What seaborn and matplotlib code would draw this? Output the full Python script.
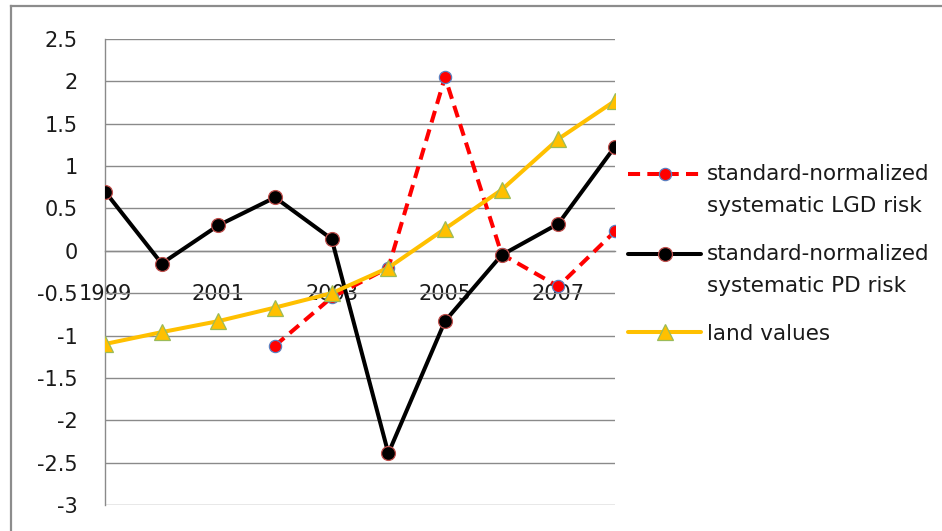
import numpy as np
import pandas as pd
import matplotlib
matplotlib.use("Agg")
import matplotlib.pyplot as plt
import matplotlib.transforms as mtransforms
from matplotlib.lines import Line2D
from matplotlib.legend_handler import HandlerLine2D
import seaborn as sns

# ---- data ----
years = [1999, 2000, 2001, 2002, 2003, 2004, 2005, 2006, 2007, 2008]
lgd_risk = [np.nan, np.nan, np.nan, -1.12, -0.55, -0.2, 2.05, -0.04, -0.42, 0.23]
pd_risk = [0.70, -0.15, 0.30, 0.63, 0.14, -2.39, -0.83, -0.05, 0.32, 1.23]
land_values = [-1.10, -0.96, -0.83, -0.67, -0.50, -0.20, 0.26, 0.72, 1.32, 1.77]

series_labels = [
    "standard-normalized\nsystematic LGD risk",
    "standard-normalized\nsystematic PD risk",
    "land values",
]
xtick_years = [1999, 2001, 2003, 2005, 2007]
xtick_labels = ["1999", "2001", "2003", "2005", "2007"]
ytick_values = [2.5, 2, 1.5, 1, 0.5, 0, -0.5, -1, -1.5, -2, -2.5, -3]
ytick_labels = ["2.5", "2", "1.5", "1", "0.5", "0", "-0.5", "-1", "-1.5", "-2", "-2.5", "-3"]

df = pd.DataFrame({"year": years, "lgd": lgd_risk, "pd": pd_risk, "land": land_values})

# ---- style ----
sns.set_style("white")
plt.rcParams["font.family"] = ["DejaVu Sans"]
plt.rcParams["font.size"] = 15
text_color = "#1a1a1a"
grid_color = "#8a8a8a"

fig = plt.figure(figsize=(9.42, 5.31), dpi=100)
W, H = 942, 531
ax = fig.add_axes([105 / W, 1 - 505 / H, 510 / W, 466 / H])

# outer chart border: left and top edges
border_x = 11 / W
border_y = 1 - 6 / H
fig.add_artist(Line2D([border_x, border_x], [0, border_y], transform=fig.transFigure,
                      color="#8c8c8c", lw=1.6, solid_capstyle="projecting"))
fig.add_artist(Line2D([border_x, 1], [border_y, border_y], transform=fig.transFigure,
                      color="#8c8c8c", lw=1.6, solid_capstyle="projecting"))

# ---- series ----
sns.lineplot(data=df, x="year", y="lgd", ax=ax, color="#ff0000", lw=2.9,
             linestyle=(0, (3.0, 1.8)), dash_capstyle="butt",
             marker="o", markersize=8.8, markerfacecolor="#ff0000",
             markeredgecolor="#5b7fc0", markeredgewidth=0.9, zorder=3)
sns.lineplot(data=df, x="year", y="pd", ax=ax, color="#000000", lw=2.9,
             marker="o", markersize=10, markerfacecolor="#000000",
             markeredgecolor="#c0504d", markeredgewidth=0.9, zorder=4)
sns.lineplot(data=df, x="year", y="land", ax=ax, color="#ffc000", lw=2.9,
             marker="^", markersize=11, markerfacecolor="#ffc000",
             markeredgecolor="#9bbb59", markeredgewidth=0.9, zorder=5)

# ---- axes ----
ax.set_xlim(1999, 2008)
ax.set_ylim(-3, 2.5)
ax.set_xlabel("")
ax.set_ylabel("")
ax.set_yticks(ytick_values)
ax.set_yticklabels(ytick_labels)
ax.set_xticks(xtick_years)
ax.set_xticklabels(xtick_labels)

ax.yaxis.grid(True, color=grid_color, lw=1.0)
ax.xaxis.grid(False)
ax.set_axisbelow(True)
for side in ("top", "right"):
    ax.spines[side].set_visible(False)
ax.spines["left"].set_color(grid_color)
ax.spines["left"].set_linewidth(1.0)
ax.spines["bottom"].set_position(("data", 0))
ax.spines["bottom"].set_color(grid_color)
ax.spines["bottom"].set_linewidth(1.0)

ax.tick_params(axis="y", direction="out", length=6.5, width=1.0,
               color=grid_color, pad=13, labelsize=15, labelcolor=text_color)
ax.tick_params(axis="x", direction="out", length=6, width=1.0,
               color=grid_color, pad=18, labelsize=15, labelcolor=text_color)
ax.patch.set_alpha(0)


# ---- legend ----
class RaisedLineHandler(HandlerLine2D):
    """Line handle lifted so it sits level with the first line of a two-line label."""

    def __init__(self, raise_pts=0.0, **kw):
        super().__init__(**kw)
        self.raise_pts = raise_pts

    def create_artists(self, legend, orig_handle, xdescent, ydescent,
                       width, height, fontsize, trans):
        artists = super().create_artists(legend, orig_handle, xdescent, ydescent,
                                         width, height, fontsize, trans)
        shift = mtransforms.Affine2D().translate(0, self.raise_pts)
        for a in artists:
            a.set_transform(shift + trans)
        return artists


handles = ax.get_lines()[:3]
leg = ax.legend(handles, series_labels, loc="upper left",
                bbox_to_anchor=(628 / W, 1 - 164 / H), bbox_transform=fig.transFigure,
                frameon=False, handlelength=3.4, handletextpad=0.25,
                borderpad=0, borderaxespad=0, labelspacing=1.3, numpoints=1,
                prop={"size": 15.5},
                handler_map={handles[0]: RaisedLineHandler(raise_pts=11.5),
                             handles[1]: RaisedLineHandler(raise_pts=11.5),
                             handles[2]: HandlerLine2D()})
for t in leg.get_texts():
    t.set_linespacing(1.75)
    t.set_color(text_color)

fig.savefig("out.png", dpi=100)
